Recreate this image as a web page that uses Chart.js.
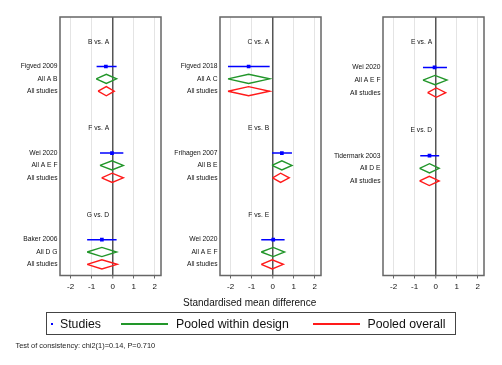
<!DOCTYPE html>
<html>
<head>
<meta charset="utf-8">
<script src="https://cdn.jsdelivr.net/npm/chart.js@4.4.1/dist/chart.umd.min.js"></script>
<style>
  body { margin: 0; background: #fff; font-family: Arial, "Liberation Sans", sans-serif; color: #222; }
  #wrap { position: relative; width: 502px; height: 365px; overflow: hidden; }
  canvas { position: absolute; top: 0; }
  .txt { position: absolute; white-space: nowrap; }
  .lg { font-size: 12.3px; line-height: 14px; top: 317px; color: #111; }
  .sw { position: absolute; }
</style>
</head>
<body>
<div id="wrap">
  <canvas id="p0" width="166" height="300" style="left:0px"></canvas>
  <canvas id="p1" width="166" height="300" style="left:160px"></canvas>
  <canvas id="p2" width="166" height="300" style="left:323px"></canvas>

  <div class="txt" style="left:183px;top:296px;font-size:10px;line-height:13px;color:#111;">Standardised mean difference</div>

  <div style="position:absolute;left:46px;top:312px;width:408px;height:21px;border:1px solid #444;"></div>
  <div class="sw" style="left:50.5px;top:322.5px;width:2.8px;height:2.8px;background:#0000ff;"></div>
  <span class="txt lg" style="left:60px;">Studies</span>
  <div class="sw" style="left:121px;top:323.3px;width:47px;height:1.5px;background:#22962a;"></div>
  <span class="txt lg" style="left:176px;">Pooled within design</span>
  <div class="sw" style="left:312.5px;top:323.3px;width:47.5px;height:1.5px;background:#ff1a1a;"></div>
  <span class="txt lg" style="left:367.5px;">Pooled overall</span>

  <div class="txt" style="left:15.5px;top:341px;font-size:7.4px;line-height:9px;color:#222;">Test of consistency: chi2(1)=0.14, P=0.710</div>
</div>

<script>
// one entry per comparison, panels read top to bottom, left to right
const comparisons  = ['B vs. A', 'F vs. A', 'G vs. D', 'C vs. A', 'E vs. B', 'F vs. E', 'E vs. A', 'E vs. D'];
const panelIndex   = [0, 0, 0, 1, 1, 1, 2, 2];
const slotIndex    = [0, 1, 2, 0, 1, 2, 0, 1];
const studyLabels  = ['Figved 2009', 'Wei 2020', 'Baker 2006', 'Figved 2018', 'Frihagen 2007', 'Wei 2020', 'Wei 2020', 'Tidermark 2003'];
const designLabels = ['All A B', 'All A E F', 'All D G', 'All A C', 'All B E', 'All A E F', 'All A E F', 'All D E'];

const studyEst   = [-0.32, -0.03, -0.51, -1.14, 0.44, 0.03, -0.05, -0.29];
const studyLo    = [-0.76, -0.60, -1.21, -2.12, -0.03, -0.54, -0.60, -0.73];
const studyHi    = [0.19, 0.51, 0.19, -0.14, 0.92, 0.57, 0.54, 0.17];
const designEst  = [-0.30, -0.03, -0.51, -1.14, 0.44, 0.03, -0.03, -0.29];
const designLo   = [-0.78, -0.60, -1.21, -2.12, -0.03, -0.54, -0.60, -0.76];
const designHi   = [0.19, 0.51, 0.19, -0.14, 0.92, 0.57, 0.54, 0.17];
const overallEst = [-0.30, -0.02, -0.51, -1.14, 0.38, -0.02, 0.03, -0.30];
const overallLo  = [-0.69, -0.52, -1.21, -2.12, 0.00, -0.54, -0.38, -0.76];
const overallHi  = [0.08, 0.51, 0.22, -0.14, 0.79, 0.51, 0.48, 0.17];

const xTicks = [-2, -1, 0, 1, 2];
const xMin = -2.5, xMax = 2.3;
const yMaxByPanel = [18.9, 18.9, 18.5];

const FONT = 'Arial, "Liberation Sans", sans-serif';
const BLUE = '#0000ff', GREEN = '#22962a', RED = '#ff1a1a';
const HALF = 0.37; // diamond half height, in rows

function diamond(lo, est, hi, row, color) {
  return {
    data: [{x: lo, y: row}, {x: est, y: row - HALF}, {x: hi, y: row}, {x: est, y: row + HALF}, {x: lo, y: row}],
    showLine: true, borderColor: color, borderWidth: 1.4, pointRadius: 0, fill: false, tension: 0
  };
}

const framePlugin = {
  id: 'frame',
  afterDraw(chart) {
    const a = chart.chartArea, ctx = chart.ctx;
    ctx.save();
    ctx.strokeStyle = '#666';
    ctx.lineWidth = 1.5;
    ctx.strokeRect(a.left, a.top, a.right - a.left, a.bottom - a.top);
    ctx.restore();
  }
};

const headerPlugin = {
  id: 'headers',
  afterDatasetsDraw(chart, args, opts) {
    const ctx = chart.ctx, xs = chart.scales.x, ys = chart.scales.y;
    ctx.save();
    ctx.font = '6.7px ' + FONT;
    ctx.fillStyle = '#111';
    ctx.textAlign = 'right';
    ctx.textBaseline = 'middle';
    opts.items.forEach(h => {
      ctx.fillText(h.text, xs.getPixelForValue(0) - 3.5, ys.getPixelForValue(h.row));
    });
    ctx.restore();
  }
};

function buildPanel(p) {
  const datasets = [];
  const rowLabels = {};
  const headers = [];
  comparisons.forEach((c, i) => {
    if (panelIndex[i] !== p) return;
    const r0 = 7 * slotIndex[i];
    headers.push({text: c, row: r0});
    rowLabels[r0 + 2] = studyLabels[i];
    rowLabels[r0 + 3] = designLabels[i];
    rowLabels[r0 + 4] = 'All studies';
    datasets.push({
      data: [{x: studyLo[i], y: r0 + 2}, {x: studyHi[i], y: r0 + 2}],
      showLine: true, borderColor: BLUE, borderWidth: 1.5, pointRadius: 0
    });
    datasets.push({
      data: [{x: studyEst[i], y: r0 + 2}],
      pointStyle: 'rect', pointRadius: 2.6, backgroundColor: BLUE, borderColor: BLUE, borderWidth: 0
    });
    datasets.push(diamond(designLo[i], designEst[i], designHi[i], r0 + 3, GREEN));
    datasets.push(diamond(overallLo[i], overallEst[i], overallHi[i], r0 + 4, RED));
  });
  const rows = Object.keys(rowLabels).map(Number);

  return new Chart(document.getElementById('p' + p), {
    type: 'scatter',
    data: {datasets: datasets},
    options: {
      responsive: false,
      animation: false,
      events: [],
      layout: {padding: {top: 17, right: 5, left: 0, bottom: 0}},
      plugins: {
        legend: {display: false},
        tooltip: {enabled: false},
        headers: {items: headers}
      },
      scales: {
        x: {
          type: 'linear', min: xMin, max: xMax,
          afterBuildTicks: s => { s.ticks = xTicks.map(v => ({value: v})); },
          afterFit: s => { s.height = 24.5; },
          grid: {
            color: c => (c.tick && c.tick.value === 0) ? '#555' : '#e4e4e4',
            lineWidth: c => (c.tick && c.tick.value === 0) ? 1.5 : 1,
            tickLength: 3, tickColor: '#666', tickWidth: 1
          },
          border: {display: false},
          ticks: {font: {size: 8, family: FONT}, color: '#111', padding: 3, callback: v => String(v)}
        },
        y: {
          type: 'linear', reverse: true, min: -2, max: yMaxByPanel[p],
          afterBuildTicks: s => { s.ticks = rows.map(v => ({value: v})); },
          afterFit: s => { s.width = 60; },
          grid: {display: false, drawTicks: false},
          border: {display: false},
          ticks: {autoSkip: false, font: {size: 6.7, family: FONT}, color: '#111', padding: 2.5,
                  callback: v => rowLabels[v] || ''}
        }
      }
    },
    plugins: [framePlugin, headerPlugin]
  });
}

[0, 1, 2].forEach(buildPanel);
</script>
</body>
</html>
